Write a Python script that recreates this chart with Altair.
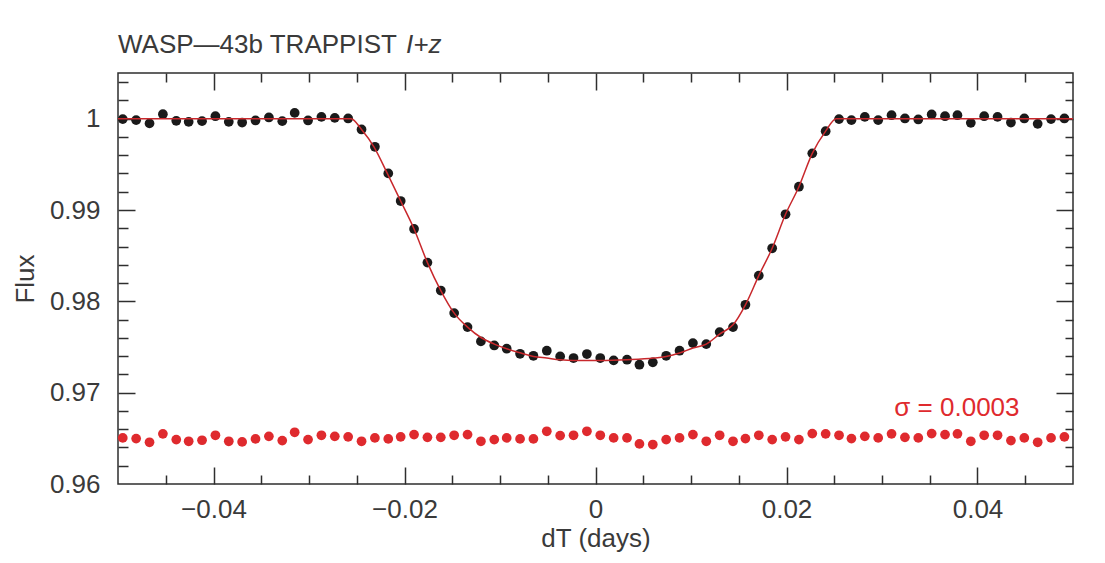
import altair as alt
import pandas as pd

# ---- data ----
time_days = [
    -0.0495, -0.0481, -0.0467, -0.0453, -0.0439, -0.0426, -0.0412, -0.0398,
    -0.0384, -0.0370, -0.0356, -0.0342, -0.0328, -0.0315, -0.0301, -0.0287,
    -0.0273, -0.0259, -0.0245, -0.0231, -0.0217, -0.0204, -0.0190, -0.0176,
    -0.0162, -0.0148, -0.0134, -0.0120, -0.0106, -0.0093, -0.0079, -0.0065,
    -0.0051, -0.0037, -0.0023, -0.0009, 0.0005, 0.0019, 0.0033, 0.0046,
    0.0060, 0.0074, 0.0088, 0.0102, 0.0116, 0.0130, 0.0144, 0.0157,
    0.0171, 0.0185, 0.0199, 0.0213, 0.0227, 0.0241, 0.0255, 0.0268,
    0.0282, 0.0296, 0.0310, 0.0324, 0.0338, 0.0352, 0.0366, 0.0379,
    0.0393, 0.0407, 0.0421, 0.0435, 0.0449, 0.0463, 0.0477, 0.0491,
]
flux_obs = [
    0.99995, 0.99984, 0.99948, 1.00049, 0.99976, 0.99965, 0.99973, 1.00027,
    0.99965, 0.99958, 0.99980, 1.00013, 0.99973, 1.00063, 0.99980, 1.00020,
    1.00009, 1.00002, 0.99882, 0.99692, 0.99401, 0.99098, 0.98792, 0.98424,
    0.98118, 0.97871, 0.97718, 0.97561, 0.97517, 0.97481, 0.97426, 0.97404,
    0.97459, 0.97397, 0.97379, 0.97423, 0.97379, 0.97353, 0.97361, 0.97306,
    0.97332, 0.97404, 0.97459, 0.97543, 0.97532, 0.97663, 0.97718, 0.97962,
    0.98282, 0.98581, 0.98953, 0.99255, 0.99620, 0.99863, 0.99995, 0.99984,
    1.00020, 0.99984, 1.00038, 1.00002, 0.99991, 1.00046, 1.00027, 1.00038,
    0.99954, 1.00027, 1.00020, 0.99958, 1.00002, 0.99943, 0.99995, 1.00002,
]
flux_resid = [
    0.96505, 0.96497, 0.96457, 0.96549, 0.96486, 0.96468, 0.96479, 0.96533,
    0.96468, 0.96461, 0.96494, 0.96522, 0.96475, 0.96566, 0.96486, 0.96533,
    0.96522, 0.96516, 0.96468, 0.96505, 0.96494, 0.96516, 0.96541, 0.96511,
    0.96511, 0.96533, 0.96541, 0.96468, 0.96486, 0.96505, 0.96494, 0.96494,
    0.96577, 0.96530, 0.96533, 0.96577, 0.96533, 0.96505, 0.96505, 0.96439,
    0.96432, 0.96486, 0.96505, 0.96541, 0.96468, 0.96533, 0.96468, 0.96497,
    0.96533, 0.96486, 0.96516, 0.96486, 0.96552, 0.96549, 0.96533, 0.96497,
    0.96522, 0.96505, 0.96549, 0.96511, 0.96505, 0.96552, 0.96541, 0.96549,
    0.96468, 0.96533, 0.96533, 0.96475, 0.96505, 0.96457, 0.96505, 0.96516,
]
model_t = [
    -0.0500, -0.0256, -0.0245, -0.0232, -0.0218, -0.0204, -0.0190, -0.0176,
    -0.0162, -0.0148, -0.0134, -0.0120, -0.0106, -0.0093, -0.0078, -0.0065,
    -0.0051, -0.0037, -0.0023, -0.0009, 0.0005, 0.0033, 0.0061, 0.0074,
    0.0088, 0.0102, 0.0116, 0.0130, 0.0144, 0.0157, 0.0171, 0.0185,
    0.0199, 0.0213, 0.0227, 0.0241, 0.0252, 0.0500,
]
model_f = [
    1.00000, 1.00000, 0.99882, 0.99692, 0.99401, 0.99098, 0.98792, 0.98424,
    0.98118, 0.97871, 0.97718, 0.97604, 0.97532, 0.97481, 0.97434, 0.97397,
    0.97379, 0.97361, 0.97353, 0.97353, 0.97353, 0.97361, 0.97379, 0.97397,
    0.97434, 0.97489, 0.97532, 0.97642, 0.97743, 0.97962, 0.98282, 0.98581,
    0.98953, 0.99255, 0.99620, 0.99863, 1.00000, 1.00000,
]

x_label_values = [-0.04, -0.02, 0, 0.02, 0.04]
x_minor = [-0.045, -0.035, -0.03, -0.025, -0.015, -0.01, -0.005,
           0.005, 0.01, 0.015, 0.025, 0.03, 0.035, 0.045]
y_label_values = [0.96, 0.97, 0.98, 0.99, 1.0]
y_major = [0.97, 0.98, 0.99, 1.0]
y_minor = [0.962, 0.964, 0.966, 0.968, 0.972, 0.974, 0.976, 0.978,
           0.982, 0.984, 0.986, 0.988, 0.992, 0.994, 0.996, 0.998,
           1.002, 1.004]

title_main = "WASP\u201443b TRAPPIST"
title_band = "I+z"
sigma_text = "\u03c3 = 0.0003"

# ---- styling ----
W, H = 955, 411
FONT = "Liberation Sans"
TXT = "#3a3a3a"
RED = "#df2a2e"
LINE = "#c8282c"
TICK = "#2e2e2e"

xs = alt.Scale(domain=[-0.05, 0.05], nice=False, zero=False)
ys = alt.Scale(domain=[0.96, 1.005], nice=False, zero=False)

obs = pd.DataFrame({"t": time_days, "f": flux_obs})
res = pd.DataFrame({"t": time_days, "f": flux_resid})
mod = pd.DataFrame({"t": model_t, "f": model_f})


def tick_axis(orient, offset, values, size):
    return alt.Axis(orient=orient, offset=offset, values=values, tickSize=size,
                    tickColor=TICK, tickWidth=1.5, labels=False, domain=False,
                    grid=False, title=None)


label_x = alt.Axis(orient="bottom", values=x_label_values, format="~g",
                   ticks=False, tickSize=0, domain=False, grid=False,
                   labelPadding=12, title="dT (days)", titlePadding=3)
label_y = alt.Axis(orient="left", values=y_label_values, format="~g",
                   ticks=False, tickSize=0, domain=False, grid=False,
                   labelPadding=18, title="Flux", titlePadding=11)

black = alt.Chart(obs).mark_circle(size=95, color="#1a1a1a", opacity=1).encode(
    x=alt.X("t:Q", scale=xs, axis=label_x),
    y=alt.Y("f:Q", scale=ys, axis=label_y),
)

model = alt.Chart(mod).mark_line(color=LINE, strokeWidth=1.5, interpolate="monotone").encode(
    x=alt.X("t:Q", scale=xs, axis=tick_axis("top", -H, x_label_values, 17)),
    y=alt.Y("f:Q", scale=ys, axis=tick_axis("right", -W, y_major, 17)),
)

resid = alt.Chart(res).mark_circle(size=95, color=RED, opacity=1).encode(
    x=alt.X("t:Q", scale=xs, axis=tick_axis("top", -H, x_minor, 9)),
    y=alt.Y("f:Q", scale=ys, axis=tick_axis("right", -W, y_minor, 10)),
)

ghost1 = alt.Chart(mod).mark_line(strokeOpacity=0).encode(
    x=alt.X("t:Q", scale=xs, axis=tick_axis("bottom", -H, x_label_values, 17)),
    y=alt.Y("f:Q", scale=ys, axis=tick_axis("left", -W, y_major, 17)),
)
ghost2 = alt.Chart(mod).mark_line(strokeOpacity=0).encode(
    x=alt.X("t:Q", scale=xs, axis=tick_axis("bottom", -H, x_minor, 9)),
    y=alt.Y("f:Q", scale=ys, axis=tick_axis("left", -W, y_minor, 8)),
)

sigma = alt.Chart().mark_text(text=sigma_text, font=FONT, fontSize=26, color=RED,
                              align="right", baseline="alphabetic").encode(
    x=alt.datum(0.0444, scale=xs, axis=None),
    y=alt.datum(0.96749, scale=ys, axis=None),
)

t1 = alt.Chart().mark_text(text=title_main, font=FONT, fontSize=26, color=TXT,
                           align="left", baseline="alphabetic").encode(
    x=alt.value(0), y=alt.value(-20))
t2 = alt.Chart().mark_text(text=title_band, font=FONT, fontSize=26, color=TXT,
                           fontStyle="italic", align="left",
                           baseline="alphabetic").encode(
    x=alt.value(288), y=alt.value(-20))

chart = alt.layer(ghost1, ghost2, black, model, resid, sigma, t1, t2).resolve_axis(
    x="independent", y="independent"
).properties(
    width=W, height=H,
    autosize=alt.AutoSizeParams(type="none"),
    padding={"left": 110, "top": 65, "right": 24, "bottom": 71},
    background="white",
).configure_view(
    stroke=TICK, strokeWidth=1.5
).configure_axis(
    labelFont=FONT, labelFontSize=26, labelColor=TXT,
    titleFont=FONT, titleFontSize=26, titleColor=TXT, titleFontWeight="normal",
)

chart.save("out.html", embed_options={"renderer": "svg", "actions": False})
